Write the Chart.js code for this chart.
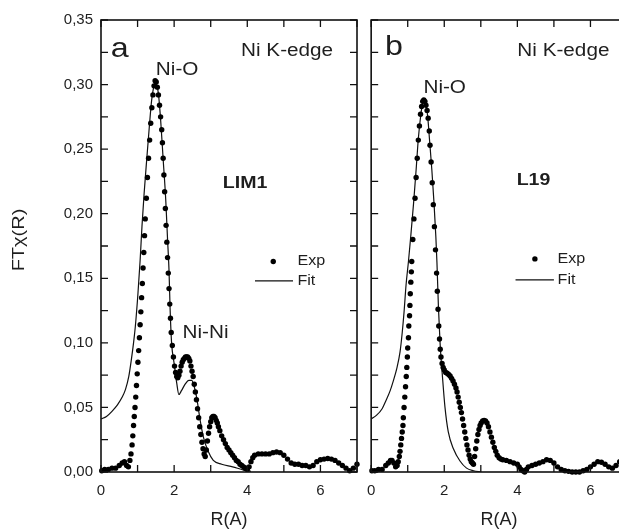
<!DOCTYPE html>
<html>
<head>
<meta charset="utf-8">
<script src="https://cdn.jsdelivr.net/npm/chart.js@4.4.1/dist/chart.umd.min.js"></script>
<style>
  html, body { margin: 0; padding: 0; background: #fff; overflow: hidden; }
  #wrap { position: relative; width: 619px; height: 531px; overflow: hidden; background: #fff; }
  canvas { position: absolute; top: 0; }
  #chartA { left: 0; }
  #chartB { left: 357px; }
</style>
</head>
<body>
<div id="wrap">
  <canvas id="chartA" width="367" height="531"></canvas>
  <canvas id="chartB" width="280" height="531"></canvas>
</div>
<script>
// axis ticks (marks every 1 / 0.025, labels every 2 / 0.05)
const xTicks = [0, 1, 2, 3, 4, 5, 6, 7];
const yTicks = [0, 0.025, 0.05, 0.075, 0.1, 0.125, 0.15, 0.175, 0.2, 0.225, 0.25, 0.275, 0.3, 0.325, 0.35];

// panel a (LIM1) - experimental points
const expA_R = [0.02, 0.1, 0.2, 0.3, 0.4, 0.5, 0.58, 0.64, 0.7, 0.75,
  0.79, 0.82, 0.85, 0.87, 0.89, 0.91, 0.93, 0.95, 0.97, 0.99, 1.01, 1.03, 1.05, 1.07, 1.09, 1.11, 1.13, 1.15, 1.17, 1.19,
  1.21, 1.24, 1.27, 1.30, 1.33, 1.36, 1.39, 1.42, 1.45, 1.48, 1.51, 1.54,
  1.57, 1.60, 1.63, 1.66, 1.68, 1.70, 1.72, 1.74, 1.76, 1.78, 1.80, 1.82, 1.84, 1.86, 1.88, 1.90, 1.92, 1.95, 1.98, 2.01,
  2.04, 2.07, 2.10, 2.13,
  2.16, 2.19, 2.22, 2.25, 2.28, 2.31, 2.34, 2.37, 2.40, 2.43, 2.46, 2.49, 2.52, 2.55, 2.58, 2.61, 2.64, 2.67, 2.70, 2.73,
  2.76, 2.79, 2.82, 2.85, 2.88, 2.91, 2.94, 2.97, 3.00, 3.03, 3.06, 3.09, 3.12, 3.15, 3.18, 3.21,
  3.25, 3.30, 3.35, 3.40, 3.45, 3.50, 3.55, 3.60, 3.65, 3.70, 3.75, 3.80, 3.85, 3.90, 3.95, 4.00, 4.05, 4.10, 4.15, 4.20,
  4.3, 4.4, 4.5, 4.6, 4.7, 4.8, 4.9, 5.0, 5.1, 5.2, 5.3, 5.4, 5.5, 5.6, 5.7, 5.8, 5.9, 6.0, 6.1, 6.2,
  6.3, 6.4, 6.5, 6.6, 6.7, 6.8, 6.9, 7.0];
const expA_FT = [0.001, 0.002, 0.002, 0.003, 0.003, 0.005, 0.007, 0.008, 0.005, 0.004,
  0.009, 0.014, 0.021, 0.028, 0.036, 0.043, 0.050, 0.058, 0.067, 0.076, 0.085, 0.094, 0.104, 0.114, 0.124, 0.135, 0.146, 0.158, 0.170, 0.183,
  0.196, 0.212, 0.228, 0.243, 0.257, 0.270, 0.282, 0.292, 0.299, 0.303, 0.302, 0.298,
  0.292, 0.284, 0.275, 0.265, 0.255, 0.243, 0.230, 0.217, 0.204, 0.191, 0.178, 0.166, 0.154, 0.142, 0.130, 0.119, 0.108, 0.098, 0.089, 0.082,
  0.077, 0.074, 0.073, 0.075,
  0.078, 0.082, 0.085, 0.087, 0.088, 0.089, 0.089, 0.089, 0.088, 0.086, 0.082, 0.078, 0.074, 0.068, 0.062, 0.056, 0.049, 0.042, 0.035, 0.029,
  0.023, 0.018, 0.014, 0.012, 0.017, 0.024, 0.030, 0.035, 0.039, 0.042, 0.043, 0.043, 0.042, 0.040, 0.038, 0.035,
  0.032, 0.028, 0.025, 0.022, 0.019, 0.017, 0.015, 0.013, 0.011, 0.009, 0.008, 0.006, 0.005, 0.004, 0.003, 0.002, 0.004, 0.008, 0.011, 0.013,
  0.014, 0.014, 0.014, 0.014, 0.015, 0.0155, 0.015, 0.013, 0.010, 0.007, 0.006, 0.006, 0.005, 0.005, 0.004, 0.005, 0.008, 0.0095, 0.010, 0.0105,
  0.010, 0.009, 0.007, 0.005, 0.003, 0.001, 0.003, 0.006];

// panel a - fit
const fitA_R = [0, 0.15, 0.3, 0.45, 0.58, 0.67, 0.76, 0.83, 0.89, 0.94,
  1.01, 1.07, 1.12, 1.18, 1.25, 1.32, 1.385, 1.44, 1.48, 1.52,
  1.57, 1.63, 1.70, 1.77, 1.82, 1.86, 1.89, 1.93, 2.0, 2.07,
  2.13, 2.2, 2.3, 2.4, 2.48, 2.55, 2.62, 2.7, 2.8, 2.93,
  3.07, 3.3, 3.6, 3.9, 4.1];
const fitA_FT = [0.041, 0.043, 0.047, 0.052, 0.058, 0.064, 0.074, 0.087, 0.100, 0.113,
  0.138, 0.164, 0.190, 0.216, 0.242, 0.267, 0.288, 0.298, 0.302, 0.300,
  0.293, 0.273, 0.242, 0.211, 0.180, 0.156, 0.126, 0.100, 0.084, 0.069,
  0.060, 0.063, 0.068, 0.071, 0.071, 0.066, 0.057, 0.042, 0.027, 0.016,
  0.009, 0.006, 0.004, 0.0015, 0.0005];

// panel b (L19) - experimental points
const expB_R = [0.02, 0.1, 0.2, 0.3, 0.4, 0.47, 0.53, 0.57, 0.62, 0.67,
  0.71, 0.74, 0.77, 0.79, 0.81, 0.83, 0.85, 0.87, 0.88, 0.90, 0.92, 0.94, 0.96, 0.975, 0.99, 1.00, 1.02, 1.03, 1.05, 1.06,
  1.07, 1.085, 1.10, 1.11, 1.14, 1.17, 1.20, 1.23, 1.26, 1.29, 1.32, 1.35, 1.38, 1.41, 1.44, 1.47, 1.50,
  1.53, 1.56, 1.59, 1.61, 1.64, 1.67, 1.70, 1.73, 1.76, 1.79, 1.81, 1.83, 1.85, 1.87, 1.89, 1.91, 1.94, 1.97, 2.00, 2.04,
  2.08, 2.12, 2.16, 2.20, 2.24, 2.28, 2.32, 2.35, 2.38, 2.41, 2.44, 2.47, 2.50, 2.53, 2.56, 2.59, 2.62, 2.65, 2.68, 2.71,
  2.74, 2.77, 2.80, 2.83, 2.86, 2.89, 2.92, 2.95, 2.98, 3.01, 3.05, 3.09, 3.13, 3.17, 3.21, 3.25, 3.29, 3.33, 3.37, 3.41,
  3.45, 3.50, 3.55, 3.60,
  3.7, 3.8, 3.9, 4.0, 4.05, 4.1, 4.15, 4.2, 4.25, 4.3, 4.4, 4.5, 4.6, 4.7, 4.8, 4.9, 5.0, 5.1, 5.2, 5.3,
  5.4, 5.5, 5.6, 5.7, 5.8, 5.9, 6.0, 6.1, 6.2, 6.3, 6.4, 6.5, 6.6, 6.7, 6.8, 6.9, 7.0];
const expB_FT = [0.001, 0.001, 0.002, 0.002, 0.005, 0.007, 0.009, 0.009, 0.007, 0.004,
  0.005, 0.008, 0.012, 0.016, 0.021, 0.026, 0.031, 0.036, 0.042, 0.050, 0.058, 0.066, 0.074, 0.081, 0.089, 0.096, 0.104, 0.113, 0.121, 0.129,
  0.138, 0.147, 0.155, 0.163, 0.180, 0.196, 0.212, 0.228, 0.243, 0.257, 0.268, 0.277, 0.283, 0.287, 0.288, 0.287, 0.284,
  0.280, 0.274, 0.264, 0.253, 0.240, 0.224, 0.207, 0.190, 0.172, 0.154, 0.140, 0.126, 0.113, 0.103, 0.095, 0.089, 0.084, 0.081, 0.079, 0.077,
  0.0765, 0.0755, 0.0744, 0.0725, 0.0705, 0.068, 0.065, 0.062, 0.058, 0.054, 0.050, 0.046, 0.041, 0.036, 0.031, 0.026, 0.021, 0.017, 0.013, 0.010,
  0.008, 0.007, 0.006, 0.012, 0.018, 0.024, 0.029, 0.033, 0.036, 0.038, 0.0395, 0.040, 0.0395, 0.038, 0.035, 0.031, 0.027, 0.023, 0.019, 0.016,
  0.013, 0.011, 0.010, 0.0095,
  0.009, 0.008, 0.007, 0.006, 0.004, 0.002, 0.001, 0.000, 0.002, 0.004, 0.005, 0.006, 0.007, 0.008, 0.0095, 0.009, 0.007, 0.004, 0.002, 0.001,
  0.0005, 0, 0, 0, 0.001, 0.002, 0.004, 0.006, 0.008, 0.0075, 0.006, 0.004, 0.003, 0.005, 0.008, 0.009, 0.008];

// panel b - fit
const fitB_R = [0, 0.15, 0.3, 0.4, 0.52, 0.6, 0.7, 0.79, 0.85, 0.9,
  0.955, 1.02, 1.085, 1.16, 1.23, 1.29, 1.36, 1.41, 1.455, 1.5,
  1.55, 1.6, 1.66, 1.72, 1.77, 1.80, 1.84, 1.885, 1.95, 2.02,
  2.11, 2.25, 2.43, 2.61, 2.8, 3.0];
const fitB_FT = [0.041, 0.044, 0.049, 0.055, 0.063, 0.070, 0.080, 0.093, 0.108, 0.124,
  0.145, 0.163, 0.183, 0.208, 0.234, 0.258, 0.277, 0.286, 0.289, 0.285,
  0.274, 0.256, 0.234, 0.208, 0.182, 0.162, 0.128, 0.100, 0.074, 0.050,
  0.031, 0.018, 0.0085, 0.003, 0.001, 0];

const FONT = '"Liberation Sans", Arial, sans-serif';
const INK = '#1e1e1e';
Chart.defaults.font.family = FONT;
Chart.defaults.color = INK;

const toXY = (rs, vs) => rs.map((r, i) => ({ x: r, y: vs[i] }));

// frame, inward ticks, text notes and the little key
const frameTicks = {
  id: 'frameTicks',
  afterDraw(chart, args, opts) {
    const { ctx, chartArea: a, scales: { x, y } } = chart;
    ctx.save();
    ctx.strokeStyle = '#111';
    ctx.lineWidth = 1.3;
    ctx.beginPath();
    xTicks.forEach(v => {
      const px = x.getPixelForValue(v);
      ctx.moveTo(px, a.bottom); ctx.lineTo(px, a.bottom - 7);
      ctx.moveTo(px, a.top); ctx.lineTo(px, a.top + 7);
    });
    yTicks.forEach(v => {
      const py = y.getPixelForValue(v);
      ctx.moveTo(a.left, py); ctx.lineTo(a.left + 7, py);
      ctx.moveTo(a.right, py); ctx.lineTo(a.right - 7, py);
    });
    ctx.stroke();
    ctx.lineWidth = 1.6;
    ctx.strokeRect(a.left, a.top, a.right - a.left, a.bottom - a.top);

    ctx.fillStyle = INK;
    opts.notes.forEach(n => {
      ctx.save();
      ctx.font = n.font;
      ctx.textBaseline = 'alphabetic';
      ctx.translate(x.getPixelForValue(n.r), y.getPixelForValue(n.v));
      ctx.scale(1.15, 1);
      ctx.fillText(n.text, 0, 0);
      ctx.restore();
    });

    // y axis title, drawn by hand so it can be stretched like the original
    if (opts.yTitle) {
      ctx.save();
      ctx.font = '16px ' + FONT;
      ctx.textAlign = 'center';
      ctx.textBaseline = 'middle';
      ctx.translate(20, (a.top + a.bottom) / 2 - 6);
      ctx.rotate(-Math.PI / 2);
      ctx.scale(1.25, 1);
      ctx.fillText(opts.yTitle, 0, 0);
      ctx.restore();
    }

    const k = opts.key;
    ctx.fillStyle = '#000';
    ctx.beginPath();
    ctx.arc(x.getPixelForValue(k.dotR), y.getPixelForValue(k.expV), 2.7, 0, Math.PI * 2);
    ctx.fill();
    ctx.lineWidth = 1.2;
    ctx.beginPath();
    ctx.moveTo(x.getPixelForValue(k.lineR[0]), y.getPixelForValue(k.fitV));
    ctx.lineTo(x.getPixelForValue(k.lineR[1]), y.getPixelForValue(k.fitV));
    ctx.stroke();
    ctx.fillStyle = INK;
    ctx.font = '14px ' + FONT;
    ctx.textBaseline = 'middle';
    [['Exp', k.expV], ['Fit', k.fitV]].forEach(([t, v]) => {
      ctx.save();
      ctx.translate(x.getPixelForValue(k.textR), y.getPixelForValue(v));
      ctx.scale(1.15, 1);
      ctx.fillText(t, 0, 0);
      ctx.restore();
    });
    ctx.restore();
  }
};

function makeChart(id, expR, expFT, fitR, fitFT, showY, padding, notes, key) {
  return new Chart(document.getElementById(id), {
    type: 'scatter',
    data: {
      datasets: [
        {
          label: 'Exp',
          data: toXY(expR, expFT),
          showLine: false,
          pointRadius: 2.7,
          pointBackgroundColor: '#000',
          pointBorderWidth: 0,
          clip: 3,
        },
        {
          label: 'Fit',
          data: toXY(fitR, fitFT),
          showLine: true,
          borderColor: '#111',
          borderWidth: 1.2,
          pointRadius: 0,
          cubicInterpolationMode: 'monotone',
        },
      ],
    },
    options: {
      responsive: false,
      animation: false,
      layout: { padding },
      plugins: {
        legend: { display: false },
        tooltip: { enabled: false },
        frameTicks: { notes, key, yTitle: showY ? 'FTχ(R)' : '' },
      },
      scales: {
        x: {
          type: 'linear',
          min: 0,
          max: 7,
          afterFit: (s) => { s.height = 59; },
          grid: { display: false, drawTicks: false },
          border: { display: false },
          ticks: {
            stepSize: 1,
            autoSkip: false,
            maxRotation: 0,
            padding: 10,
            font: { size: 15 },
            callback: (v) => (v % 2 === 0 ? String(v) : ''),
          },
          title: { display: true, text: 'R(A)', font: { size: 18 }, padding: { top: 0, bottom: 0 } },
        },
        y: {
          type: 'linear',
          display: showY,
          min: 0,
          max: 0.35,
          afterFit: (s) => { if (showY) s.width = 101; },
          grid: { display: false, drawTicks: false },
          border: { display: false },
          ticks: {
            stepSize: 0.05,
            padding: 8,
            font: { size: 15 },
            callback: (v) => v.toFixed(2).replace('.', ','),
          },
          title: { display: false },
        },
      },
    },
    plugins: [frameTicks],
  });
}

makeChart('chartA', expA_R, expA_FT, fitA_R, fitA_FT, true,
  { top: 20, right: 0, left: 0, bottom: 0 },
  [
    { text: 'a', r: 0.27, v: 0.3215, font: '28px ' + FONT },
    { text: 'Ni K-edge', r: 3.83, v: 0.322, font: '18px ' + FONT },
    { text: 'Ni-O', r: 1.5, v: 0.3075, font: '18px ' + FONT },
    { text: 'LIM1', r: 3.33, v: 0.22, font: 'bold 17px ' + FONT },
    { text: 'Ni-Ni', r: 2.23, v: 0.1038, font: '18px ' + FONT },
  ],
  { dotR: 4.71, expV: 0.163, lineR: [4.21, 5.25], fitV: 0.148, textR: 5.37 });

makeChart('chartB', expB_R, expB_FT, fitB_R, fitB_FT, false,
  { top: 20, right: 0, left: 0, bottom: 0 },
  [
    { text: 'b', r: 0.38, v: 0.323, font: '28px ' + FONT },
    { text: 'Ni K-edge', r: 4.0, v: 0.322, font: '18px ' + FONT },
    { text: 'Ni-O', r: 1.43, v: 0.2936, font: '18px ' + FONT },
    { text: 'L19', r: 3.98, v: 0.222, font: 'bold 17px ' + FONT },
  ],
  { dotR: 4.48, expV: 0.165, lineR: [3.95, 5.0], fitV: 0.1487, textR: 5.1 });
</script>
</body>
</html>
